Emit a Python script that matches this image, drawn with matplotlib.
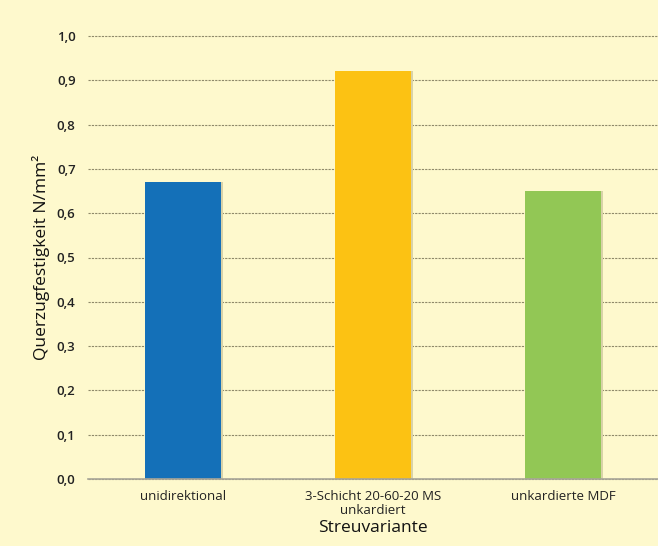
import matplotlib
matplotlib.use("Agg")
import matplotlib.pyplot as plt
from matplotlib.ticker import FixedLocator, FuncFormatter

plt.rcParams['font.family'] = ['Open Sans', 'DejaVu Sans']

categories = ["unidirektional", "3-Schicht 20-60-20 MS\nunkardiert", "unkardierte MDF"]
values = [0.67, 0.92, 0.65]
colors = ["#1470b8", "#fcc213", "#92c755"]
yticks = [0.0, 0.1, 0.2, 0.3, 0.4, 0.5, 0.6, 0.7, 0.8, 0.9, 1.0]

bg = "#fef9cd"
fig = plt.figure(figsize=(6.58, 5.46), dpi=100, facecolor=bg)
ax = fig.add_axes([88 / 658, 1 - 479 / 546, 1 - 88 / 658, (479 - 36) / 546])
ax.set_facecolor(bg)

x = list(range(len(categories)))
# soft drop shadow behind each bar
ax.bar([i + 0.012 for i in x], values, width=0.4, color="#d8d2a8", zorder=2)
ax.bar(x, values, width=0.4, color=colors, zorder=3)

ax.set_xlim(-0.5, 2.5)
ax.set_ylim(0, 1.0)
ax.yaxis.set_major_locator(FixedLocator(yticks))
ax.yaxis.set_major_formatter(FuncFormatter(lambda v, p: f"{v:.1f}".replace(".", ",")))
ax.grid(axis="y", color="#8f8a6a", linestyle=(0, (2, 1)), linewidth=0.8, zorder=1)
for line in ax.get_ygridlines():
    line.set_clip_on(False)

for s in ["top", "right", "left"]:
    ax.spines[s].set_visible(False)
ax.spines["bottom"].set_color("#a8a698")
ax.spines["bottom"].set_linewidth(1.2)
ax.spines["bottom"].set_zorder(4)

ax.set_xticks(x)
ax.set_xticklabels(categories, fontsize=9.5, color="#222222", linespacing=1.1)
ax.tick_params(axis="x", length=0, pad=8)
ax.tick_params(axis="y", length=0, pad=9, labelsize=9.5, labelcolor="#222222")
for lbl in ax.get_yticklabels():
    lbl.set_fontweight("semibold")

ax.set_ylabel("Querzugfestigkeit N/mm²", fontsize=12.5, color="#111111", labelpad=5)
ax.set_xlabel("Streuvariante", fontsize=12.5, color="#111111", labelpad=2)

fig.savefig("out.png", dpi=100, facecolor=bg)
